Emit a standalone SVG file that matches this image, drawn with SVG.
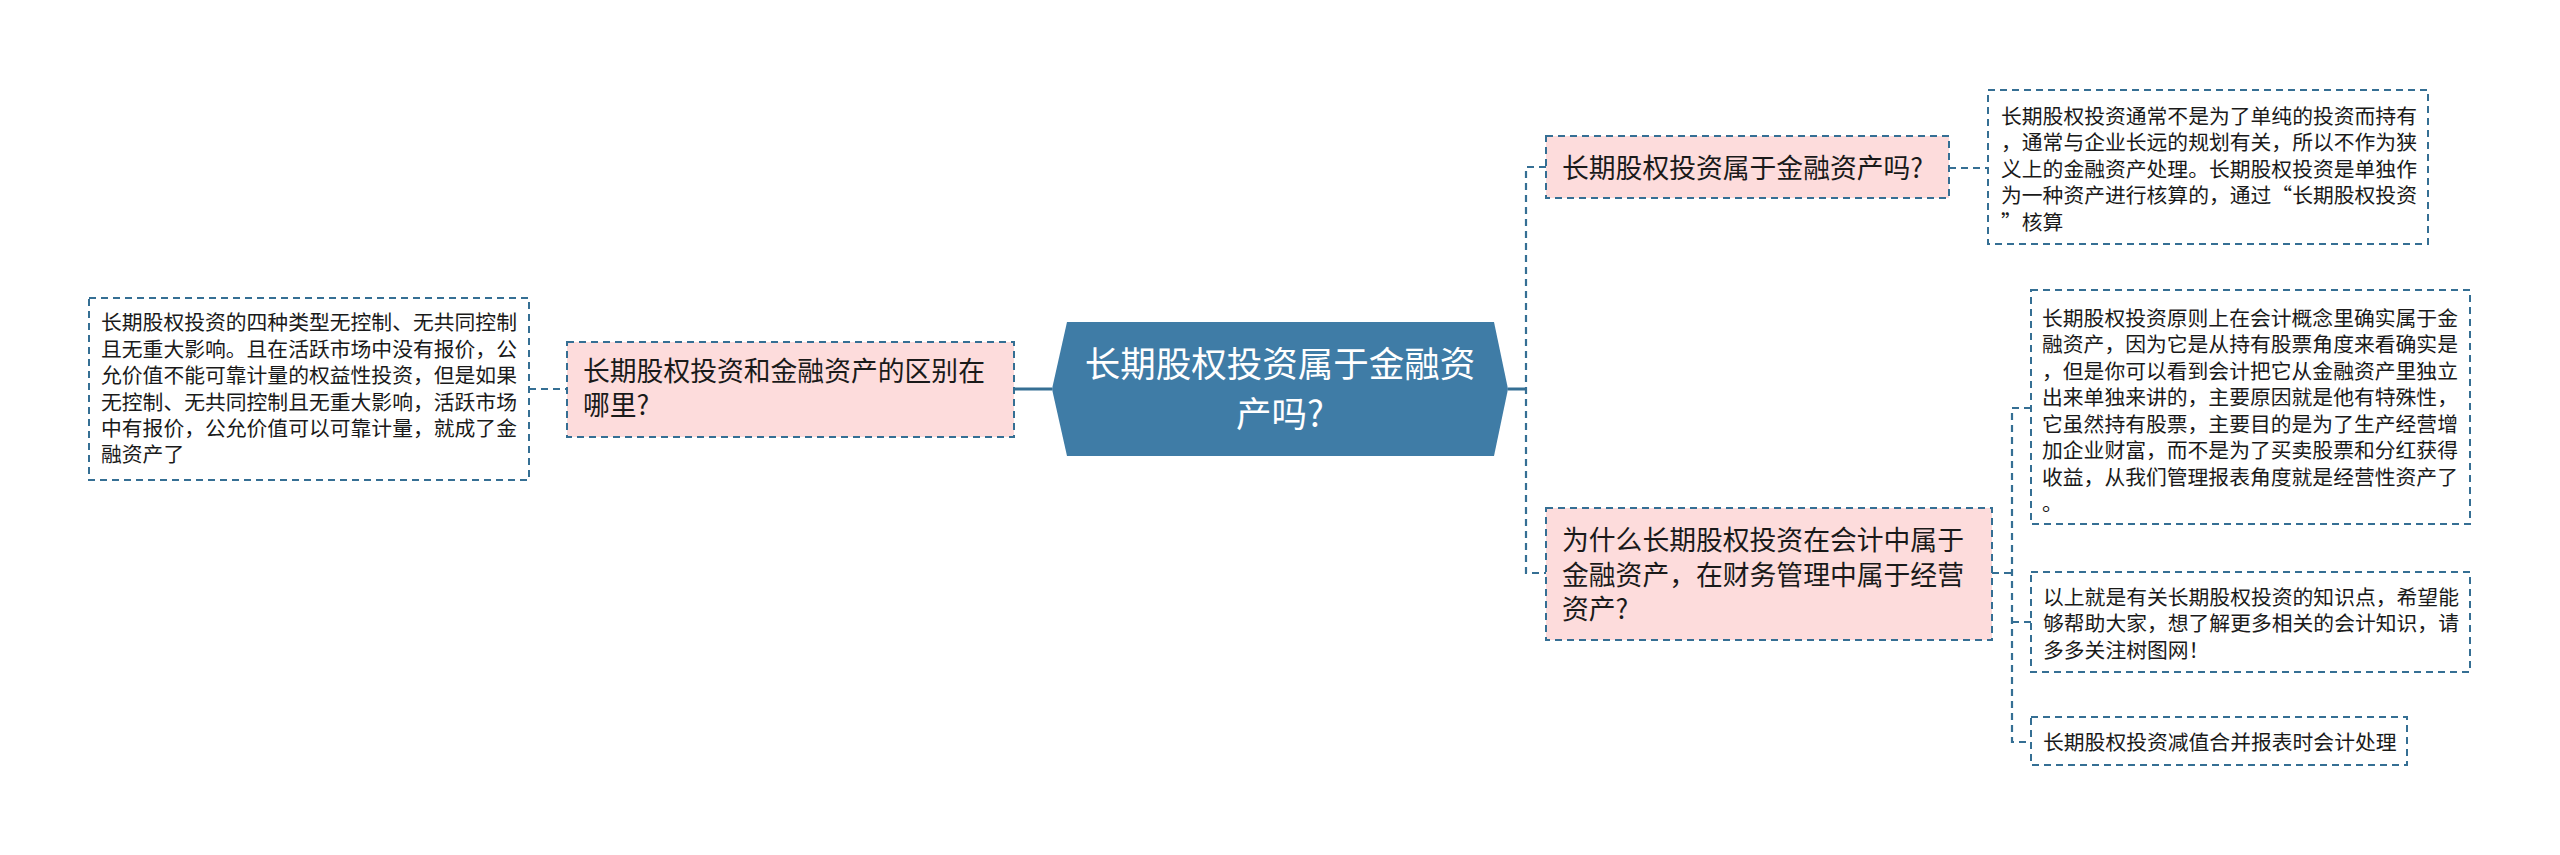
<svg xmlns="http://www.w3.org/2000/svg" width="2560" height="855" viewBox="0 0 2560 855">
<style>
text{font-family:"Noto Sans CJK SC","Noto Sans",sans-serif;fill:#1a1a1a}
.leaf rect{fill:#ffffff;stroke:#356f94;stroke-width:2;stroke-dasharray:7 5}
.sub rect{fill:#fddcdc;stroke:#356f94;stroke-width:2;stroke-dasharray:7 5}
.leaf text{font-size:20.8px}
.sub text{font-size:26.8px}
.dash{fill:none;stroke:#356f94;stroke-width:2.2;stroke-dasharray:7 5}
.solid{fill:none;stroke:#356f94;stroke-width:3}
</style>
<rect width="2560" height="855" fill="#ffffff"/>
<g id="connectors">
<line class="solid" x1="1014" y1="389" x2="1052" y2="389"/>
<line class="dash" x1="529" y1="389" x2="567" y2="389"/>
<line class="solid" x1="1508" y1="389" x2="1526" y2="389"/>
<path class="dash" d="M1546 167 H1526 V573 H1546"/>
<line class="dash" x1="1949" y1="168" x2="1988" y2="168"/>
<line class="dash" x1="1992" y1="573" x2="2012" y2="573"/>
<path class="dash" d="M2031 408 H2012 V742 H2031"/>
<line class="dash" x1="2012" y1="622" x2="2031" y2="622"/>
</g>
<g id="center">
<polygon points="1067,322 1494,322 1508,389 1494,456 1067,456 1052,389" fill="#3f7ca6"/>
<text x="1280" y="377" text-anchor="middle" style="font-size:35.5px;fill:#ffffff">长期股权投资属于金融资</text>
<text x="1280" y="427" text-anchor="middle" style="font-size:35.5px;fill:#ffffff">产吗?</text>
</g>
<g id="node-left" class="sub">
<rect x="567" y="342" width="447" height="95"/>
<text x="583" y="381">长期股权投资和金融资产的区别在</text>
<text x="583" y="415">哪里?</text>
</g>
<g id="leaf-left" class="leaf">
<rect x="89" y="298" width="440" height="182"/>
<text x="101" y="330">长期股权投资的四种类型无控制、无共同控制</text>
<text x="101" y="356.5">且无重大影响。且在活跃市场中没有报价，公</text>
<text x="101" y="383">允价值不能可靠计量的权益性投资，但是如果</text>
<text x="101" y="409.5">无控制、无共同控制且无重大影响，活跃市场</text>
<text x="101" y="436">中有报价，公允价值可以可靠计量，就成了金</text>
<text x="101" y="462">融资产了</text>
</g>
<g id="node-r1" class="sub">
<rect x="1546" y="136" width="403" height="62"/>
<text x="1562" y="178">长期股权投资属于金融资产吗?</text>
</g>
<g id="leaf-r1" class="leaf">
<rect x="1988" y="90" width="440" height="154"/>
<text x="2001" y="123.5">长期股权投资通常不是为了单纯的投资而持有</text>
<text x="2001" y="150">，通常与企业长远的规划有关，所以不作为狭</text>
<text x="2001" y="176.5">义上的金融资产处理。长期股权投资是单独作</text>
<text x="2001" y="203">为一种资产进行核算的，通过“长期股权投资</text>
<text x="2001" y="229.5">”核算</text>
</g>
<g id="node-r2" class="sub">
<rect x="1546" y="508" width="446" height="132"/>
<text x="1562" y="550">为什么长期股权投资在会计中属于</text>
<text x="1562" y="584.5">金融资产，在财务管理中属于经营</text>
<text x="1562" y="619">资产?</text>
</g>
<g id="leaf-r2" class="leaf">
<rect x="2031" y="290" width="439" height="234"/>
<text x="2042" y="325.5">长期股权投资原则上在会计概念里确实属于金</text>
<text x="2042" y="352">融资产，因为它是从持有股票角度来看确实是</text>
<text x="2042" y="378.5">，但是你可以看到会计把它从金融资产里独立</text>
<text x="2042" y="405">出来单独来讲的，主要原因就是他有特殊性，</text>
<text x="2042" y="431.5">它虽然持有股票，主要目的是为了生产经营增</text>
<text x="2042" y="458">加企业财富，而不是为了买卖股票和分红获得</text>
<text x="2042" y="484.5">收益，从我们管理报表角度就是经营性资产了</text>
<text x="2042" y="511">。</text>
</g>
<g id="leaf-r3" class="leaf">
<rect x="2031" y="572" width="439" height="100"/>
<text x="2043" y="604.5">以上就是有关长期股权投资的知识点，希望能</text>
<text x="2043" y="631">够帮助大家，想了解更多相关的会计知识，请</text>
<text x="2043" y="657.5">多多关注树图网！</text>
</g>
<g id="leaf-r4" class="leaf">
<rect x="2031" y="717" width="376" height="48"/>
<text x="2043" y="749.5">长期股权投资减值合并报表时会计处理</text>
</g>
</svg>
